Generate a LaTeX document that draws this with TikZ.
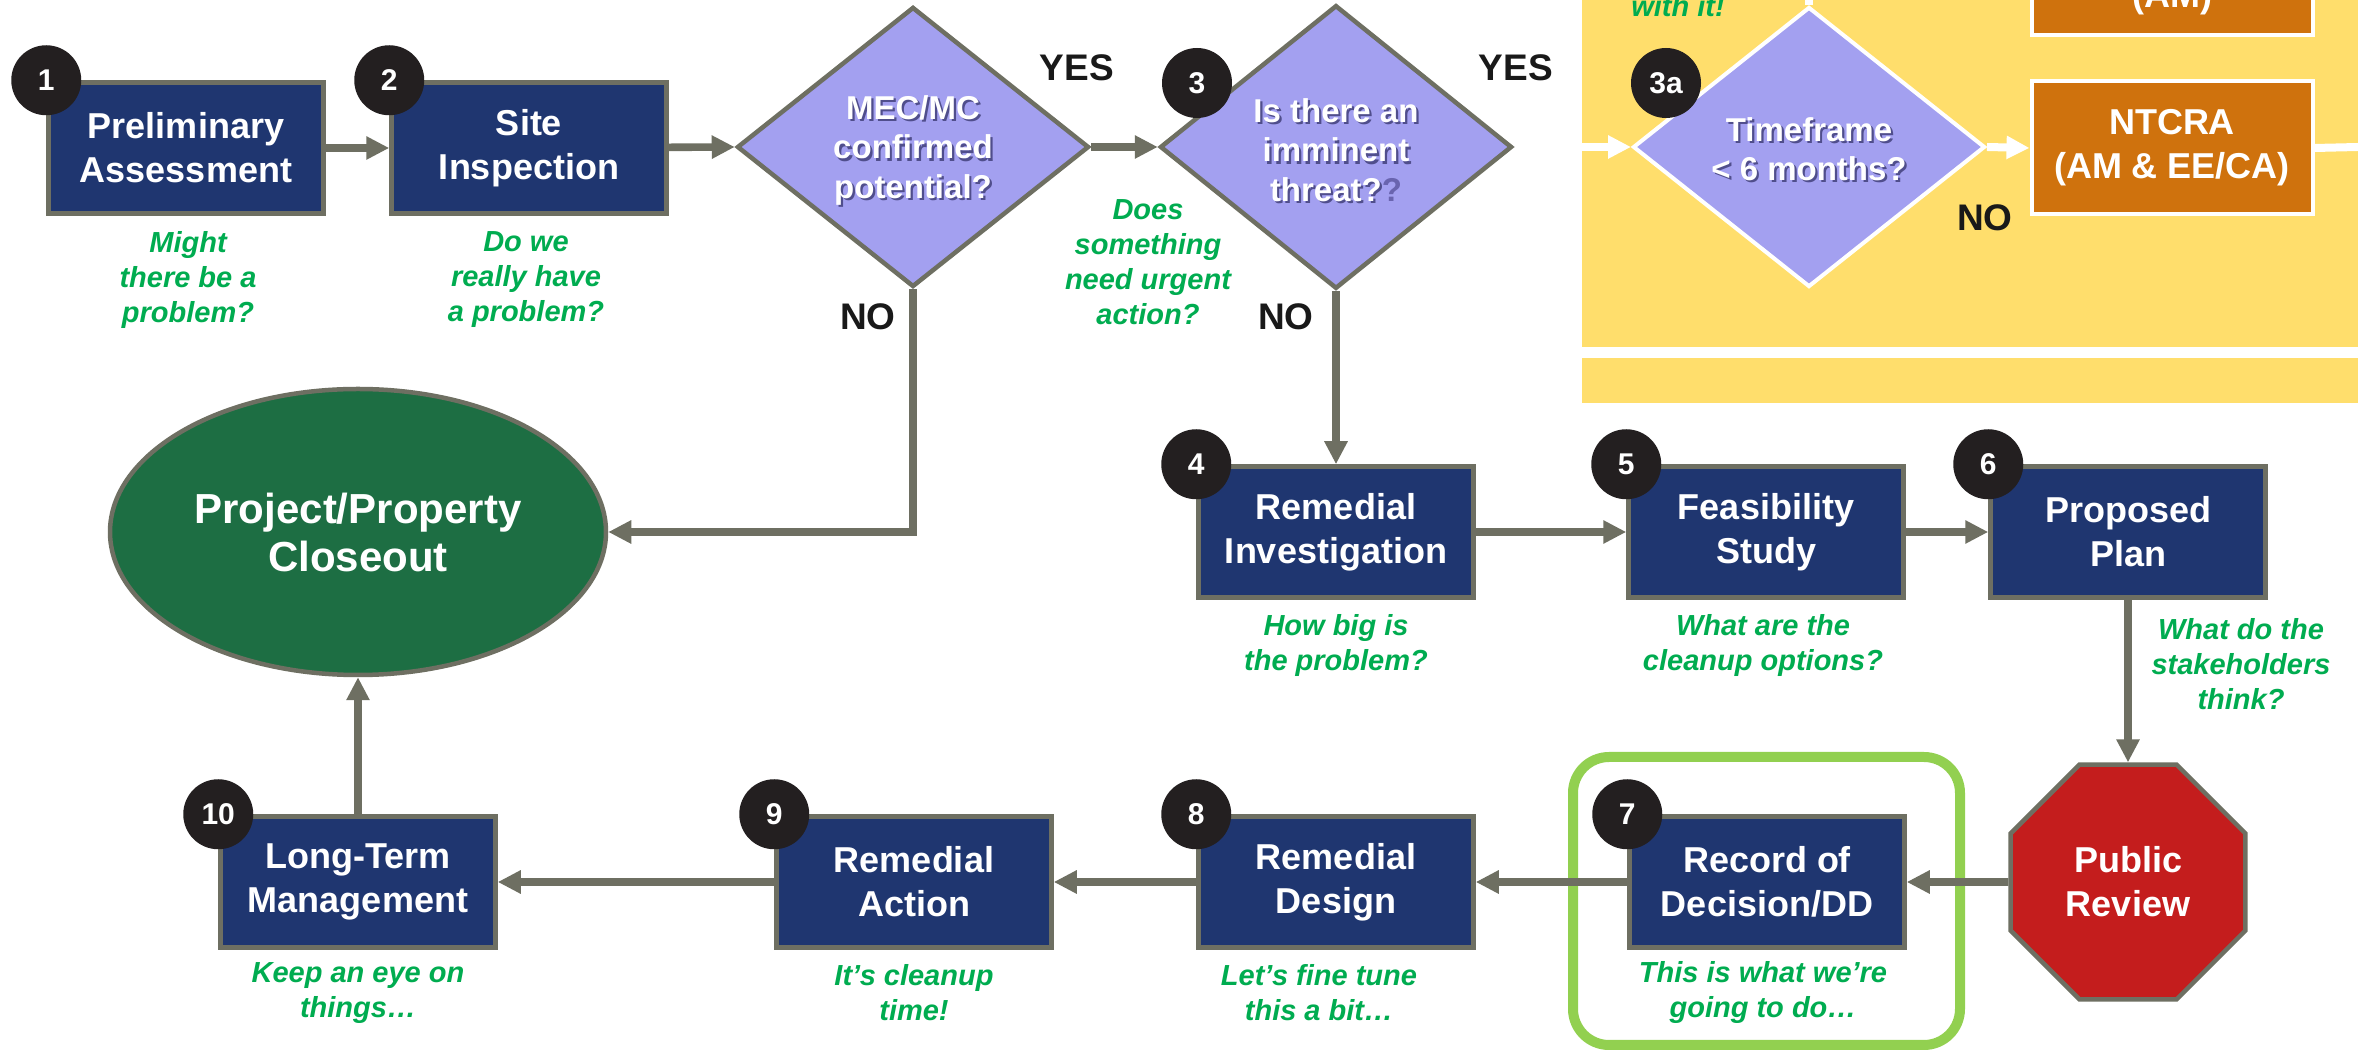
\documentclass[tikz,border=0pt]{standalone}
\usepackage{fontspec}
\setmainfont{Liberation Sans}
\usetikzlibrary{shapes.geometric,arrows.meta}
\definecolor{navy}{RGB}{31,54,112}
\definecolor{edgegray}{RGB}{110,111,98}
\definecolor{lav}{RGB}{163,160,240}
\definecolor{dotblack}{RGB}{35,31,32}
\definecolor{forest}{RGB}{29,110,67}
\definecolor{stopred}{RGB}{196,29,29}
\definecolor{qgreen}{RGB}{0,172,80}
\definecolor{hilite}{RGB}{146,208,80}
\definecolor{ylw}{RGB}{255,222,108}
\definecolor{orng}{RGB}{207,114,13}
\definecolor{shad}{RGB}{80,78,140}
\definecolor{qshad}{RGB}{105,100,175}
\newcommand{\shd}[1]{\leavevmode\rlap{\kern1.1pt\raisebox{-1.1pt}{\textcolor{shad}{#1}}}#1}
\newcommand{\dtext}[2]{\raisebox{#1}[\height][\depth]{\begin{tabular}{@{}c@{}}#2\end{tabular}}}
\tikzset{
  stepbox/.style={draw=edgegray, line width=2.25pt, fill=navy, minimum width=137.5pt, minimum height=65.5pt,
    inner sep=0pt, text=white, font=\bfseries\fontsize{18}{22}\selectfont, align=center},
  num/.style={circle, fill=dotblack, minimum size=35pt, inner sep=0pt, text=white,
    font=\bfseries\fontsize{15}{15}\selectfont},
  decide/.style={diamond, draw=edgegray, line width=2.25pt, fill=lav, minimum width=176pt, minimum height=140pt,
    inner sep=0pt, text=white, font=\bfseries\fontsize{16.5}{19.75}\selectfont},
  qtext/.style={text=qgreen, font=\bfseries\itshape\fontsize{14.5}{17.5}\selectfont, align=center},
  yn/.style={font=\bfseries\fontsize{18.5}{18.5}\selectfont, text=black!90},
  arr/.style={draw=edgegray, line width=3.8pt, -{Triangle[length=11.5pt,width=11pt]}},
  warr/.style={draw=white, line width=4pt, -{Triangle[length=11.5pt,width=11pt]}},
  ntc/.style={draw=white, line width=2pt, fill=orng, minimum width=140.5pt, minimum height=66.5pt,
    inner sep=0pt, text=white, font=\bfseries\fontsize{18}{22}\selectfont, align=center},
}
\begin{document}
\begin{tikzpicture}[x=0.5pt,y=-0.5pt]
\useasboundingbox (0,0) rectangle (2358,1052);
\clip (0,0) rectangle (2358,1052);
\fill[white] (0,0) rectangle (2358,1052);

% yellow side panel
\fill[ylw] (1582,0) rectangle (2358,347);
\fill[ylw] (1582,358) rectangle (2358,403);

% highlight frame round step 7
\draw[hilite, line width=5pt, rounded corners=18pt] (1573,757) rectangle (1960,1045);

% main nodes
\node[stepbox] (b1) at (186,148) {Preliminary\\Assessment};
\node[stepbox] (b2) at (529,148) {Site\\Inspection};
\node[decide] (d1) at (913,147) {\dtext{-2pt}{\shd{MEC/MC}\\\shd{confirmed}\\\shd{potential?}}};
\node[decide] (d3) at (1336,147) {\dtext{-3.5pt}{\shd{Is there an}\\\shd{imminent}\\\shd{threat?}\textcolor{qshad}{?}}};
\node[stepbox] (b4) at (1336,532) {Remedial\\Investigation};
\node[stepbox] (b5) at (1766,532) {Feasibility\\Study};
\node[stepbox] (b6) at (2128,532) {Proposed\\Plan};
\node[regular polygon, regular polygon sides=8, minimum size=127pt, draw=edgegray, line width=2.25pt,
  fill=stopred, inner sep=0pt, text=white, font=\bfseries\fontsize{18}{22}\selectfont, align=center]
  (pr) at (2128,882) {Public\\Review};
\node[stepbox] (b7) at (1767,882) {Record of\\Decision/DD};
\node[stepbox] (b8) at (1336,882) {Remedial\\Design};
\node[stepbox] (b9) at (914,882) {Remedial\\Action};
\node[stepbox] (b10) at (358,882) {Long-Term\\Management};
\node[ellipse, draw=edgegray, line width=2.25pt, fill=forest, minimum width=248pt, minimum height=143pt,
  inner sep=0pt, text=white, font=\bfseries\fontsize{21}{24}\selectfont, align=center]
  (close) at (358,532) {Project/Property\\Closeout};

% yellow panel nodes
\node[decide, draw=white, line width=2pt] (d3a) at (1809,147) {\dtext{-3pt}{\shd{Timeframe}\\\shd{< 6 months?}}};
\node[ntc] (ntcra) at (2172,148) {NTCRA\\(AM \& EE/CA)};
\node[ntc, anchor=south, minimum height=100pt] (am) at (2172,37) {};
\node[text=white, font=\bfseries\fontsize{18}{22}\selectfont, anchor=base] (amtxt) at (2172,8) {(AM)};
\node[qtext, anchor=base] (withit) at (1678,17) {with it!};
\coordinate (yin) at (1582,147);
\coordinate (yout) at (2358,147);
\coordinate (ytop) at (1809,0);
\draw[warr] (yin) -- (d3a.west);
\draw[warr] (d3a.east) -- (ntcra.west);
\draw[white, line width=4pt] (ntcra.east) -- (yout);
\draw[white, line width=4pt] (d3a.north) -- (ytop);

% connectors
\draw[arr] (b1) -- (b2);
\draw[arr] (b2) -- (d1.west);
\draw[arr] (d1.east) -- (d3.west);
\draw[arr] (d3.south) -- (b4.north);
\draw[arr] (d1.south) |- (close.east);
\draw[arr] (b4) -- (b5);
\draw[arr] (b5) -- (b6);
\draw[arr] (b6.south) -- (pr.north);
\draw[arr] (pr.west) -- (b7.east);
\draw[arr] (b7) -- (b8);
\draw[arr] (b8) -- (b9);
\draw[arr] (b9) -- (b10);
\draw[arr] (b10.north) -- (close.south);

% number badges
\node[num] (n1) at (b1.north west) {1};
\node[num] (n2) at (b2.north west) {2};
\node[num] (n3) at (1197,83) {3};
\node[num] (n3a) at (1666,83) {3a};
\node[num] (n4) at (b4.north west) {4};
\node[num] (n5) at (b5.north west) {5};
\node[num] (n6) at (b6.north west) {6};
\node[num] (n7) at (b7.north west) {7};
\node[num] (n8) at (b8.north west) {8};
\node[num] (n9) at (b9.north west) {9};
\node[num] (n10) at (b10.north west) {10};

% yes / no labels
\node[yn] (yes1) at (1077,68) {YES};
\node[yn] (yes3) at (1516,68) {YES};
\node[yn] (no1) at (868,317) {NO};
\node[yn] (no3) at (1286,317) {NO};
\node[yn] (no3a) at (1985,218) {NO};

% green questions
\node[qtext] (q1) at (188,280) {Might\\there be a\\problem?};
\node[qtext] (q2) at (526,280) {Do we\\really have\\a problem?};
\node[qtext] (q3) at (1148,262) {Does\\something\\need urgent\\action?};
\node[qtext] (q4) at (1336,646) {How big is\\the problem?};
\node[qtext] (q5) at (1763,646) {What are the\\cleanup options?};
\node[qtext] (q6) at (2241,664) {What do the\\stakeholders\\think?};
\node[qtext] (q7) at (1763,993) {This is what we’re\\going to do…};
\node[qtext] (q8) at (1319,993) {Let’s fine tune\\this a bit…};
\node[qtext] (q9) at (914,993) {It’s cleanup\\time!};
\node[qtext] (q10) at (358,993) {Keep an eye on\\things…};
\end{tikzpicture}
\end{document}
